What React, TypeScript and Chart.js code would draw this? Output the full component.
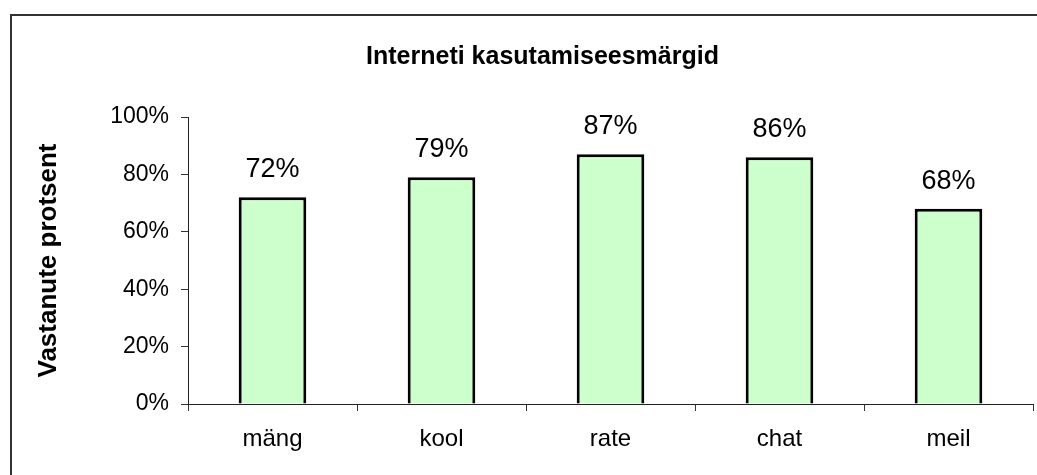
import React, { useEffect, useRef } from "react";
import { Chart, registerables } from "chart.js";

Chart.register(...registerables);

const categories = ["mäng", "kool", "rate", "chat", "meil"];
const values = [72, 79, 87, 86, 68];
const yTicks = [0, 20, 40, 60, 80, 100];
const chartTitle = "Interneti kasutamiseesmärgid";
const yTitle = "Vastanute protsent";

const FONT = "'Liberation Sans', Arial, sans-serif";

const titlePlugin = {
  id: "customTitle",
  afterDraw(chart: any) {
    const ctx = chart.ctx;
    ctx.save();
    ctx.font = `bold 25px ${FONT}`;
    ctx.fillStyle = "#000";
    ctx.textAlign = "center";
    ctx.textBaseline = "middle";
    ctx.fillText(chartTitle, 542.5, 57);
    ctx.restore();
  },
};

const labelPlugin = {
  id: "barLabels",
  afterDatasetsDraw(chart: any) {
    const ctx = chart.ctx;
    const meta = chart.getDatasetMeta(0);
    ctx.save();
    ctx.font = `27px ${FONT}`;
    ctx.fillStyle = "#000";
    ctx.textAlign = "center";
    ctx.textBaseline = "alphabetic";
    meta.data.forEach((bar: any, i: number) => {
      ctx.fillText(`${values[i]}%`, bar.x, bar.y - 20);
    });
    ctx.restore();
  },
};

export default function App() {
  const ref = useRef<HTMLCanvasElement>(null);
  useEffect(() => {
    if (!ref.current) return;
    const chart = new Chart(ref.current, {
      type: "bar",
      data: {
        labels: categories,
        datasets: [
          {
            data: values,
            backgroundColor: "#CCFFCC",
            borderColor: "#000",
            borderWidth: 3,
            categoryPercentage: 1,
            barPercentage: 0.4,
          },
        ],
      },
      options: {
        responsive: false,
        animation: false,
        devicePixelRatio: 1,
        layout: { padding: { top: 117, right: 4, left: 0, bottom: 0 } },
        plugins: {
          legend: { display: false },
          title: { display: false },
          tooltip: { enabled: false },
        },
        scales: {
          x: {
            offset: true,
            grid: {
              offset: true,
              drawOnChartArea: false,
              drawTicks: true,
              tickLength: 7,
              color: "#333",
            },
            border: { display: true, color: "#222", width: 1 },
            ticks: {
              color: "#000",
              font: { family: FONT, size: 24 },
              padding: 14,
              maxRotation: 0,
            },
            afterFit: (s: any) => {
              s.height = 71;
            },
          },
          y: {
            min: 0,
            max: 100,
            afterBuildTicks: (s: any) => {
              s.ticks = yTicks.map((v) => ({ value: v }));
            },
            grid: {
              drawOnChartArea: false,
              drawTicks: true,
              tickLength: 7,
              color: "#333",
            },
            border: { display: true, color: "#222", width: 1 },
            ticks: {
              color: "#000",
              font: { family: FONT, size: 23 },
              padding: 12,
              callback: (v: any) => `${v}%`,
            },
            title: {
              display: true,
              text: yTitle,
              color: "#000",
              font: { family: FONT, size: 26, weight: "bold" },
              padding: { top: 33, bottom: 0 },
            },
            afterFit: (s: any) => {
              s.width = 188;
            },
          },
        },
      },
      plugins: [titlePlugin, labelPlugin],
    });
    return () => chart.destroy();
  }, []);

  return (
    <div
      style={{
        position: "fixed",
        left: 0,
        top: 0,
        width: 1037,
        height: 475,
        overflow: "hidden",
        background: "#fff",
      }}
    >
      <div
        style={{
          position: "absolute",
          left: 10,
          top: 14,
          width: 1200,
          height: 800,
          border: "2px solid #333",
        }}
      />
      <canvas
        ref={ref}
        width={1037}
        height={475}
        style={{ position: "absolute", left: 0, top: 0, width: 1037, height: 475 }}
      />
    </div>
  );
}
